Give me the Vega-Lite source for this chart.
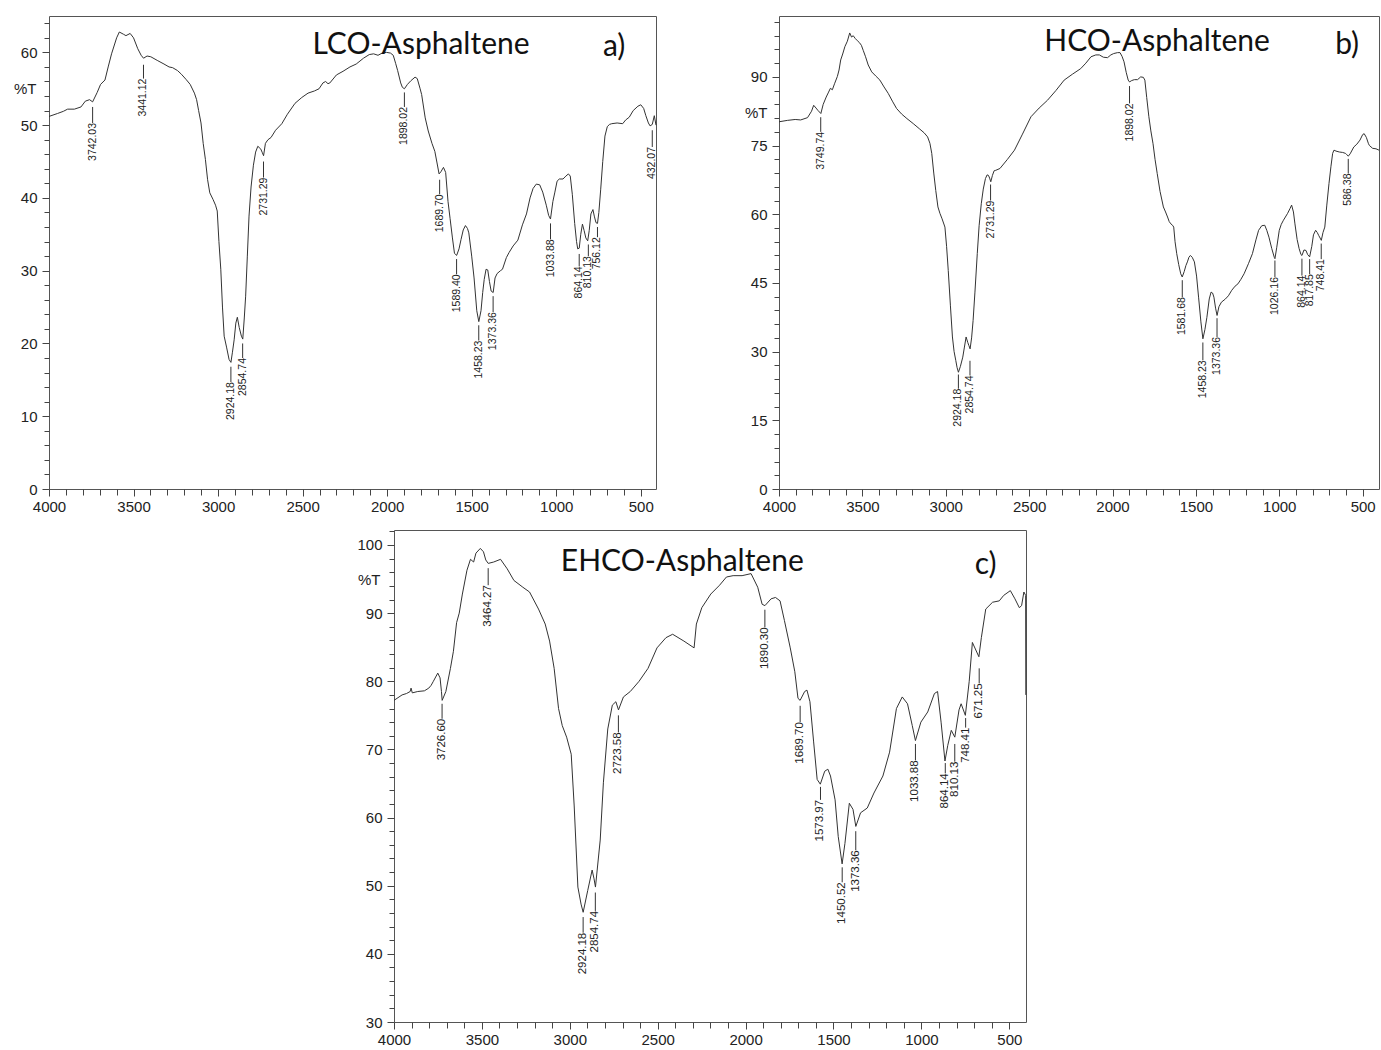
{
"$schema": "https://vega.github.io/schema/vega-lite/v6.json",
"background": "white",
"padding": {"left": 13, "top": 14, "right": 0, "bottom": 0},
"spacing": 8,
"config": {
 "view": {"stroke": "#555", "strokeWidth": 1},
 "axis": {"labelFont": "Liberation Sans", "labelFontSize": 15, "labelColor": "#222", "tickColor": "#444", "tickWidth": 1, "titleFont": "Liberation Sans", "titleFontSize": 15, "titleFontWeight": "normal", "titleColor": "#222", "grid": false, "domain": false, "labelOverlap": false, "labelFlush": false, "labelBound": false}
},
"datasets": {
 "a": [{"wn":4000,"t":51.2},{"wn":3950,"t":51.6},{"wn":3915,"t":51.9},{"wn":3890,"t":52.2},{"wn":3850,"t":52.2},{"wn":3811,"t":52.5},{"wn":3785,"t":53.3},{"wn":3760,"t":53.5},{"wn":3742,"t":53.2},{"wn":3715,"t":54.5},{"wn":3695,"t":55.6},{"wn":3669,"t":56.2},{"wn":3650,"t":58.0},{"wn":3630,"t":59.8},{"wn":3600,"t":62.0},{"wn":3584,"t":62.8},{"wn":3560,"t":62.5},{"wn":3545,"t":62.3},{"wn":3520,"t":62.6},{"wn":3500,"t":62.0},{"wn":3475,"t":60.5},{"wn":3455,"t":59.6},{"wn":3441,"t":59.2},{"wn":3420,"t":59.5},{"wn":3398,"t":59.4},{"wn":3360,"t":58.9},{"wn":3320,"t":58.4},{"wn":3290,"t":58.0},{"wn":3269,"t":57.9},{"wn":3240,"t":57.5},{"wn":3217,"t":57.0},{"wn":3190,"t":56.3},{"wn":3165,"t":55.6},{"wn":3140,"t":54.4},{"wn":3127,"t":53.5},{"wn":3115,"t":52.0},{"wn":3101,"t":50.3},{"wn":3088,"t":47.5},{"wn":3075,"t":45.3},{"wn":3062,"t":42.5},{"wn":3049,"t":40.7},{"wn":3030,"t":39.8},{"wn":3015,"t":39.0},{"wn":3005,"t":38.2},{"wn":2995,"t":34.0},{"wn":2984,"t":30.2},{"wn":2974,"t":25.0},{"wn":2964,"t":21.0},{"wn":2950,"t":19.5},{"wn":2935,"t":17.8},{"wn":2924,"t":17.4},{"wn":2915,"t":18.8},{"wn":2905,"t":20.5},{"wn":2895,"t":22.8},{"wn":2886,"t":23.6},{"wn":2875,"t":22.2},{"wn":2862,"t":21.0},{"wn":2854,"t":20.6},{"wn":2845,"t":23.5},{"wn":2837,"t":26.5},{"wn":2827,"t":32.0},{"wn":2817,"t":37.5},{"wn":2805,"t":41.5},{"wn":2791,"t":44.5},{"wn":2778,"t":46.3},{"wn":2765,"t":47.1},{"wn":2747,"t":46.7},{"wn":2738,"t":46.2},{"wn":2731,"t":45.8},{"wn":2720,"t":47.5},{"wn":2705,"t":48.0},{"wn":2687,"t":48.3},{"wn":2660,"t":49.3},{"wn":2623,"t":50.2},{"wn":2590,"t":51.5},{"wn":2545,"t":53.0},{"wn":2505,"t":53.8},{"wn":2468,"t":54.4},{"wn":2430,"t":54.7},{"wn":2403,"t":55.0},{"wn":2380,"t":55.8},{"wn":2364,"t":56.0},{"wn":2350,"t":55.7},{"wn":2339,"t":55.8},{"wn":2300,"t":56.9},{"wn":2261,"t":57.4},{"wn":2220,"t":58.0},{"wn":2183,"t":58.4},{"wn":2140,"t":59.2},{"wn":2106,"t":59.7},{"wn":2080,"t":59.8},{"wn":2054,"t":59.6},{"wn":2030,"t":59.9},{"wn":2003,"t":60.0},{"wn":1980,"t":59.9},{"wn":1964,"t":59.6},{"wn":1950,"t":58.5},{"wn":1938,"t":57.5},{"wn":1920,"t":55.8},{"wn":1910,"t":55.2},{"wn":1898,"t":55.0},{"wn":1880,"t":55.6},{"wn":1860,"t":56.1},{"wn":1835,"t":56.6},{"wn":1822,"t":56.4},{"wn":1805,"t":55.0},{"wn":1796,"t":54.2},{"wn":1775,"t":51.0},{"wn":1757,"t":49.2},{"wn":1735,"t":47.5},{"wn":1718,"t":46.4},{"wn":1705,"t":44.8},{"wn":1693,"t":43.3},{"wn":1682,"t":43.6},{"wn":1667,"t":44.2},{"wn":1654,"t":43.5},{"wn":1640,"t":39.5},{"wn":1628,"t":37.2},{"wn":1614,"t":34.5},{"wn":1602,"t":32.4},{"wn":1589,"t":32.1},{"wn":1575,"t":33.0},{"wn":1563,"t":34.3},{"wn":1550,"t":35.6},{"wn":1537,"t":36.2},{"wn":1525,"t":35.8},{"wn":1517,"t":35.2},{"wn":1500,"t":32.0},{"wn":1486,"t":29.0},{"wn":1470,"t":24.5},{"wn":1458,"t":23.0},{"wn":1445,"t":24.5},{"wn":1435,"t":27.0},{"wn":1426,"t":28.8},{"wn":1415,"t":30.2},{"wn":1405,"t":30.1},{"wn":1395,"t":28.5},{"wn":1385,"t":27.2},{"wn":1373,"t":27.0},{"wn":1362,"t":29.0},{"wn":1350,"t":29.6},{"wn":1330,"t":30.0},{"wn":1318,"t":30.2},{"wn":1295,"t":31.8},{"wn":1279,"t":32.5},{"wn":1255,"t":33.4},{"wn":1227,"t":34.2},{"wn":1200,"t":36.3},{"wn":1176,"t":37.8},{"wn":1155,"t":40.0},{"wn":1137,"t":41.3},{"wn":1118,"t":41.9},{"wn":1098,"t":41.8},{"wn":1080,"t":40.8},{"wn":1059,"t":39.0},{"wn":1045,"t":37.6},{"wn":1034,"t":37.1},{"wn":1020,"t":39.5},{"wn":1008,"t":40.8},{"wn":995,"t":42.3},{"wn":982,"t":42.6},{"wn":960,"t":42.6},{"wn":943,"t":43.0},{"wn":928,"t":43.3},{"wn":917,"t":43.0},{"wn":905,"t":40.5},{"wn":891,"t":36.5},{"wn":880,"t":34.0},{"wn":873,"t":33.0},{"wn":864,"t":33.1},{"wn":855,"t":35.0},{"wn":845,"t":36.4},{"wn":835,"t":35.5},{"wn":825,"t":34.5},{"wn":814,"t":34.1},{"wn":805,"t":35.5},{"wn":795,"t":37.8},{"wn":783,"t":38.4},{"wn":775,"t":37.5},{"wn":765,"t":36.6},{"wn":756,"t":36.5},{"wn":748,"t":38.0},{"wn":737,"t":41.2},{"wn":725,"t":45.0},{"wn":712,"t":48.5},{"wn":698,"t":49.8},{"wn":685,"t":50.1},{"wn":672,"t":50.2},{"wn":640,"t":50.3},{"wn":607,"t":50.2},{"wn":590,"t":50.7},{"wn":568,"t":51.1},{"wn":545,"t":52.0},{"wn":517,"t":52.6},{"wn":500,"t":52.8},{"wn":483,"t":52.3},{"wn":470,"t":51.3},{"wn":455,"t":50.3},{"wn":445,"t":49.9},{"wn":432,"t":50.1},{"wn":420,"t":51.3},{"wn":410,"t":50.0}],
 "b": [{"wn":4000,"t":80.2},{"wn":3950,"t":80.5},{"wn":3903,"t":80.7},{"wn":3870,"t":80.6},{"wn":3829,"t":81.1},{"wn":3805,"t":82.5},{"wn":3792,"t":83.8},{"wn":3778,"t":83.2},{"wn":3767,"t":82.7},{"wn":3749,"t":82.0},{"wn":3735,"t":84.0},{"wn":3717,"t":85.6},{"wn":3705,"t":86.5},{"wn":3692,"t":87.5},{"wn":3680,"t":87.2},{"wn":3667,"t":88.5},{"wn":3650,"t":90.1},{"wn":3640,"t":91.5},{"wn":3630,"t":93.7},{"wn":3618,"t":95.0},{"wn":3605,"t":96.6},{"wn":3590,"t":97.8},{"wn":3576,"t":99.6},{"wn":3565,"t":98.7},{"wn":3555,"t":99.0},{"wn":3543,"t":98.4},{"wn":3530,"t":97.9},{"wn":3518,"t":97.5},{"wn":3506,"t":96.9},{"wn":3495,"t":95.8},{"wn":3481,"t":94.4},{"wn":3465,"t":92.6},{"wn":3444,"t":91.1},{"wn":3420,"t":90.2},{"wn":3395,"t":89.3},{"wn":3370,"t":87.8},{"wn":3345,"t":86.4},{"wn":3320,"t":84.7},{"wn":3295,"t":83.1},{"wn":3265,"t":81.9},{"wn":3233,"t":80.9},{"wn":3195,"t":79.8},{"wn":3159,"t":78.7},{"wn":3130,"t":77.8},{"wn":3109,"t":76.9},{"wn":3095,"t":75.5},{"wn":3084,"t":73.3},{"wn":3072,"t":69.0},{"wn":3060,"t":65.2},{"wn":3047,"t":61.6},{"wn":3035,"t":60.2},{"wn":3022,"t":59.0},{"wn":3005,"t":57.2},{"wn":2995,"t":53.0},{"wn":2985,"t":47.7},{"wn":2972,"t":40.0},{"wn":2960,"t":33.2},{"wn":2950,"t":30.0},{"wn":2940,"t":28.1},{"wn":2932,"t":26.5},{"wn":2924,"t":25.5},{"wn":2912,"t":26.8},{"wn":2898,"t":28.8},{"wn":2888,"t":31.0},{"wn":2878,"t":33.2},{"wn":2868,"t":32.0},{"wn":2861,"t":31.3},{"wn":2854,"t":30.6},{"wn":2845,"t":33.0},{"wn":2836,"t":36.8},{"wn":2825,"t":43.0},{"wn":2811,"t":51.4},{"wn":2800,"t":57.5},{"wn":2787,"t":62.3},{"wn":2775,"t":65.5},{"wn":2762,"t":67.8},{"wn":2752,"t":68.6},{"wn":2744,"t":68.5},{"wn":2737,"t":67.9},{"wn":2730,"t":67.1},{"wn":2720,"t":68.5},{"wn":2710,"t":69.5},{"wn":2700,"t":69.6},{"wn":2675,"t":70.0},{"wn":2630,"t":72.0},{"wn":2588,"t":74.0},{"wn":2540,"t":77.5},{"wn":2489,"t":81.3},{"wn":2440,"t":83.2},{"wn":2390,"t":84.9},{"wn":2340,"t":87.0},{"wn":2290,"t":89.3},{"wn":2240,"t":90.6},{"wn":2191,"t":91.8},{"wn":2160,"t":93.0},{"wn":2129,"t":94.4},{"wn":2100,"t":94.8},{"wn":2079,"t":94.8},{"wn":2055,"t":94.3},{"wn":2030,"t":94.2},{"wn":2010,"t":94.8},{"wn":1993,"t":95.1},{"wn":1970,"t":95.3},{"wn":1955,"t":95.3},{"wn":1943,"t":94.5},{"wn":1931,"t":93.3},{"wn":1918,"t":91.0},{"wn":1906,"t":89.3},{"wn":1898,"t":88.9},{"wn":1885,"t":89.2},{"wn":1869,"t":89.4},{"wn":1850,"t":89.4},{"wn":1831,"t":90.0},{"wn":1815,"t":89.9},{"wn":1806,"t":89.3},{"wn":1795,"t":85.5},{"wn":1782,"t":81.3},{"wn":1770,"t":78.2},{"wn":1757,"t":75.4},{"wn":1745,"t":72.0},{"wn":1732,"t":68.9},{"wn":1715,"t":65.0},{"wn":1695,"t":61.6},{"wn":1682,"t":60.5},{"wn":1670,"t":59.4},{"wn":1660,"t":58.4},{"wn":1650,"t":57.9},{"wn":1640,"t":57.6},{"wn":1633,"t":57.2},{"wn":1625,"t":54.0},{"wn":1615,"t":51.4},{"wn":1603,"t":49.0},{"wn":1591,"t":47.0},{"wn":1582,"t":46.3},{"wn":1570,"t":47.5},{"wn":1560,"t":48.8},{"wn":1551,"t":49.6},{"wn":1542,"t":50.6},{"wn":1533,"t":51.0},{"wn":1522,"t":50.6},{"wn":1509,"t":49.6},{"wn":1496,"t":46.5},{"wn":1484,"t":41.9},{"wn":1470,"t":36.5},{"wn":1458,"t":32.8},{"wn":1446,"t":34.8},{"wn":1434,"t":37.5},{"wn":1420,"t":41.5},{"wn":1409,"t":43.0},{"wn":1400,"t":42.8},{"wn":1392,"t":41.9},{"wn":1382,"t":39.5},{"wn":1373,"t":37.9},{"wn":1362,"t":39.8},{"wn":1347,"t":40.8},{"wn":1323,"t":41.5},{"wn":1305,"t":42.2},{"wn":1285,"t":43.4},{"wn":1265,"t":44.3},{"wn":1248,"t":44.8},{"wn":1230,"t":45.8},{"wn":1211,"t":47.0},{"wn":1185,"t":49.2},{"wn":1161,"t":51.4},{"wn":1140,"t":54.4},{"wn":1124,"t":56.5},{"wn":1105,"t":57.5},{"wn":1087,"t":57.6},{"wn":1075,"t":56.5},{"wn":1062,"t":55.0},{"wn":1045,"t":52.5},{"wn":1030,"t":50.6},{"wn":1026,"t":50.3},{"wn":1015,"t":52.8},{"wn":1000,"t":56.5},{"wn":988,"t":57.8},{"wn":975,"t":58.7},{"wn":950,"t":60.2},{"wn":935,"t":61.3},{"wn":926,"t":62.0},{"wn":915,"t":60.5},{"wn":906,"t":57.9},{"wn":893,"t":54.5},{"wn":881,"t":52.5},{"wn":870,"t":51.2},{"wn":864,"t":51.0},{"wn":852,"t":52.2},{"wn":840,"t":52.1},{"wn":830,"t":51.2},{"wn":818,"t":50.7},{"wn":805,"t":53.0},{"wn":795,"t":55.5},{"wn":782,"t":56.5},{"wn":772,"t":56.0},{"wn":764,"t":55.4},{"wn":755,"t":54.8},{"wn":748,"t":54.3},{"wn":738,"t":56.0},{"wn":727,"t":57.2},{"wn":715,"t":62.0},{"wn":702,"t":66.7},{"wn":690,"t":70.5},{"wn":680,"t":73.3},{"wn":672,"t":74.0},{"wn":660,"t":73.8},{"wn":640,"t":73.6},{"wn":620,"t":73.5},{"wn":603,"t":73.3},{"wn":595,"t":73.0},{"wn":586,"t":72.7},{"wn":575,"t":73.2},{"wn":553,"t":74.7},{"wn":535,"t":75.3},{"wn":516,"t":76.2},{"wn":500,"t":77.4},{"wn":491,"t":77.6},{"wn":478,"t":76.8},{"wn":465,"t":75.4},{"wn":459,"t":75.0},{"wn":440,"t":74.4},{"wn":420,"t":74.3},{"wn":402,"t":74.0}],
 "c": [{"wn":4000,"t":77.2},{"wn":3954,"t":78.0},{"wn":3929,"t":78.2},{"wn":3908,"t":78.5},{"wn":3903,"t":79.0},{"wn":3896,"t":78.3},{"wn":3865,"t":78.5},{"wn":3827,"t":78.6},{"wn":3802,"t":79.0},{"wn":3789,"t":79.4},{"wn":3776,"t":80.0},{"wn":3751,"t":81.2},{"wn":3738,"t":80.5},{"wn":3730,"t":78.5},{"wn":3726,"t":77.2},{"wn":3705,"t":78.5},{"wn":3679,"t":81.9},{"wn":3662,"t":84.4},{"wn":3644,"t":88.6},{"wn":3629,"t":90.0},{"wn":3611,"t":92.8},{"wn":3585,"t":96.3},{"wn":3565,"t":97.9},{"wn":3547,"t":97.5},{"wn":3534,"t":98.8},{"wn":3509,"t":99.5},{"wn":3491,"t":99.0},{"wn":3478,"t":97.8},{"wn":3464,"t":97.3},{"wn":3433,"t":97.5},{"wn":3394,"t":97.9},{"wn":3356,"t":96.5},{"wn":3318,"t":94.8},{"wn":3267,"t":93.8},{"wn":3229,"t":93.1},{"wn":3178,"t":90.6},{"wn":3140,"t":88.4},{"wn":3115,"t":85.9},{"wn":3089,"t":81.9},{"wn":3064,"t":76.0},{"wn":3043,"t":73.5},{"wn":3018,"t":71.8},{"wn":2992,"t":69.3},{"wn":2975,"t":61.7},{"wn":2954,"t":49.8},{"wn":2936,"t":47.3},{"wn":2924,"t":46.1},{"wn":2898,"t":49.3},{"wn":2873,"t":52.3},{"wn":2862,"t":51.0},{"wn":2854,"t":49.8},{"wn":2827,"t":56.7},{"wn":2809,"t":65.1},{"wn":2784,"t":73.0},{"wn":2758,"t":76.5},{"wn":2738,"t":77.0},{"wn":2723,"t":75.8},{"wn":2695,"t":77.7},{"wn":2656,"t":78.5},{"wn":2606,"t":80.0},{"wn":2555,"t":81.9},{"wn":2504,"t":84.9},{"wn":2453,"t":86.4},{"wn":2415,"t":86.9},{"wn":2351,"t":85.9},{"wn":2293,"t":84.9},{"wn":2280,"t":88.4},{"wn":2249,"t":90.8},{"wn":2198,"t":92.8},{"wn":2148,"t":94.1},{"wn":2109,"t":95.3},{"wn":2071,"t":95.5},{"wn":2020,"t":95.5},{"wn":1969,"t":95.8},{"wn":1931,"t":93.8},{"wn":1906,"t":91.3},{"wn":1890,"t":91.1},{"wn":1855,"t":92.1},{"wn":1830,"t":92.3},{"wn":1804,"t":91.8},{"wn":1779,"t":88.9},{"wn":1746,"t":84.9},{"wn":1720,"t":81.4},{"wn":1702,"t":77.5},{"wn":1690,"t":77.2},{"wn":1664,"t":78.5},{"wn":1651,"t":78.7},{"wn":1634,"t":77.0},{"wn":1613,"t":71.1},{"wn":1593,"t":65.6},{"wn":1575,"t":64.9},{"wn":1550,"t":66.8},{"wn":1532,"t":67.1},{"wn":1517,"t":66.1},{"wn":1491,"t":62.6},{"wn":1473,"t":57.2},{"wn":1451,"t":53.2},{"wn":1435,"t":56.2},{"wn":1410,"t":62.1},{"wn":1389,"t":61.2},{"wn":1373,"t":58.7},{"wn":1346,"t":60.7},{"wn":1308,"t":61.4},{"wn":1270,"t":63.6},{"wn":1219,"t":66.1},{"wn":1181,"t":69.6},{"wn":1142,"t":76.0},{"wn":1109,"t":77.7},{"wn":1079,"t":76.7},{"wn":1052,"t":73.5},{"wn":1034,"t":71.3},{"wn":1003,"t":74.0},{"wn":964,"t":75.5},{"wn":926,"t":78.2},{"wn":908,"t":78.5},{"wn":888,"t":74.0},{"wn":866,"t":68.3},{"wn":850,"t":70.6},{"wn":830,"t":72.8},{"wn":810,"t":71.8},{"wn":786,"t":75.8},{"wn":774,"t":76.7},{"wn":750,"t":75.0},{"wn":728,"t":80.0},{"wn":710,"t":85.7},{"wn":673,"t":83.6},{"wn":659,"t":86.4},{"wn":634,"t":90.6},{"wn":595,"t":91.6},{"wn":557,"t":91.8},{"wn":532,"t":92.6},{"wn":494,"t":93.3},{"wn":468,"t":92.1},{"wn":443,"t":90.8},{"wn":430,"t":91.1},{"wn":417,"t":93.1},{"wn":407,"t":92.6},{"wn":406,"t":78.0}],
 "pa": [{"label":"3742.03","wn":3742.03,"y1":52.5,"y2":50.3},{"label":"3441.12","wn":3441.12,"y1":58.3,"y2":56.4},{"label":"2924.18","wn":2924.18,"y1":16.8,"y2":14.7},{"label":"2854.74","wn":2854.74,"y1":20.0,"y2":18.0},{"label":"2731.29","wn":2731.29,"y1":45.0,"y2":42.8},{"label":"1898.02","wn":1898.02,"y1":54.5,"y2":52.5},{"label":"1689.70","wn":1689.70,"y1":42.5,"y2":40.5},{"label":"1589.40","wn":1589.40,"y1":31.6,"y2":29.5},{"label":"1458.23","wn":1458.23,"y1":22.5,"y2":20.4},{"label":"1373.36","wn":1373.36,"y1":26.5,"y2":24.3},{"label":"1033.88","wn":1033.88,"y1":36.5,"y2":34.3},{"label":"864.14","wn":864.14,"y1":32.3,"y2":30.6},{"label":"810.13","wn":810.13,"y1":33.6,"y2":32.0},{"label":"756.12","wn":756.12,"y1":36.0,"y2":34.6},{"label":"432.07","wn":432.07,"y1":49.3,"y2":47.0}],
 "pb": [{"label":"3749.74","wn":3749.74,"y1":81.2,"y2":78.0},{"label":"2924.18","wn":2924.18,"y1":25.0,"y2":21.9},{"label":"2854.74","wn":2854.74,"y1":28.0,"y2":24.8},{"label":"2731.29","wn":2731.29,"y1":66.5,"y2":63.0},{"label":"1898.02","wn":1898.02,"y1":88.0,"y2":84.2},{"label":"1581.68","wn":1581.68,"y1":45.6,"y2":41.9},{"label":"1458.23","wn":1458.23,"y1":32.0,"y2":28.1},{"label":"1373.36","wn":1373.36,"y1":37.3,"y2":33.2},{"label":"1026.16","wn":1026.16,"y1":49.9,"y2":46.3},{"label":"864.14","wn":864.14,"y1":50.3,"y2":46.6},{"label":"817.85","wn":817.85,"y1":50.2,"y2":46.9},{"label":"748.41","wn":748.41,"y1":53.6,"y2":50.2},{"label":"586.38","wn":586.38,"y1":72.1,"y2":68.9}],
 "pc": [{"label":"3726.60","wn":3726.60,"y1":76.7,"y2":74.5},{"label":"3464.27","wn":3464.27,"y1":96.6,"y2":94.1},{"label":"2924.18","wn":2924.18,"y1":45.4,"y2":43.1},{"label":"2854.74","wn":2854.74,"y1":49.0,"y2":46.3},{"label":"2723.58","wn":2723.58,"y1":75.0,"y2":72.5},{"label":"1890.30","wn":1890.30,"y1":90.5,"y2":87.9},{"label":"1689.70","wn":1689.70,"y1":76.4,"y2":74.0},{"label":"1573.97","wn":1573.97,"y1":64.5,"y2":62.6},{"label":"1450.52","wn":1450.52,"y1":52.7,"y2":50.5},{"label":"1373.36","wn":1373.36,"y1":58.0,"y2":55.2},{"label":"1033.88","wn":1033.88,"y1":70.8,"y2":68.4},{"label":"864.14","wn":864.14,"y1":68.0,"y2":66.5},{"label":"810.13","wn":810.13,"y1":70.8,"y2":68.2},{"label":"748.41","wn":748.41,"y1":74.6,"y2":73.2},{"label":"671.25","wn":671.25,"y1":81.9,"y2":79.7}],
 "ta": [{"label":"LCO-Asphaltene","wn":2442,"t":61.0},{"label":"a)","wn":724,"t":60.8}],
 "tb": [{"label":"HCO-Asphaltene","wn":2409,"t":97.7},{"label":"b)","wn":665,"t":97.0}],
 "tc": [{"label":"EHCO-Asphaltene","wn":3051,"t":97.5},{"label":"c)","wn":697,"t":97.0}]
},
"vconcat": [
 {"hconcat": [
  {"width": 607, "height": 473,
   "layer": [
    {"data": {"name": "a"}, "mark": {"type": "line", "color": "#333", "strokeWidth": 1},
     "encoding": {
      "x": {"field": "wn", "type": "quantitative", "title": null, "scale": {"domain": [410, 4000], "reverse": true, "nice": false, "zero": false},
            "axis": {"values": [4000,3900,3800,3700,3600,3500,3400,3300,3200,3100,3000,2900,2800,2700,2600,2500,2400,2300,2200,2100,2000,1900,1800,1700,1600,1500,1400,1300,1200,1100,1000,900,800,700,600,500], "tickCount": 500, "format": "d", "labelExpr": "datum.value % 500 === 0 ? datum.label : ''", "tickSize": {"condition": {"test": "datum.value % 500 === 0", "value": 7}, "value": 6}, "labelPadding": 3}},
      "y": {"field": "t", "type": "quantitative", "title": "%T", "scale": {"domain": [0, 65], "nice": false, "zero": false},
            "axis": {"values": [0,2,4,6,8,10,12,14,16,18,20,22,24,26,28,30,32,34,36,38,40,42,44,46,48,50,52,54,56,58,60,62,64], "tickCount": 500, "format": "d", "labelExpr": "datum.value % 10 === 0 ? datum.label : ''", "tickSize": {"condition": {"test": "datum.value % 10 === 0", "value": 7}, "value": 5}, "labelPadding": 5, "titleAngle": 0, "titleX": -13, "titleY": 72, "titleAlign": "right", "titleBaseline": "middle"}}
     }},
    {"data": {"name": "pa"}, "mark": {"type": "rule", "color": "#333", "strokeWidth": 1},
     "encoding": {"x": {"field": "wn", "type": "quantitative", "title": null}, "y": {"field": "y1", "type": "quantitative", "title": "%T"}, "y2": {"field": "y2"}}},
    {"data": {"name": "pa"}, "mark": {"type": "text", "angle": 270, "align": "right", "baseline": "middle", "font": "Liberation Sans", "fontSize": 10.5, "color": "#222"},
     "encoding": {"x": {"field": "wn", "type": "quantitative", "title": null}, "y": {"field": "y2", "type": "quantitative", "title": "%T"}, "text": {"field": "label"}}},
    {"data": {"name": "ta"}, "mark": {"type": "text", "align": "left", "baseline": "middle", "font": "Lato", "fontSize": 30, "color": "#111"},
     "encoding": {"x": {"field": "wn", "type": "quantitative", "title": null}, "y": {"field": "t", "type": "quantitative", "title": "%T"}, "text": {"field": "label"}}}
   ]},
  {"width": 600, "height": 473,
   "layer": [
    {"data": {"name": "b"}, "mark": {"type": "line", "color": "#333", "strokeWidth": 1},
     "encoding": {
      "x": {"field": "wn", "type": "quantitative", "title": null, "scale": {"domain": [402, 4000], "reverse": true, "nice": false, "zero": false},
            "axis": {"values": [4000,3900,3800,3700,3600,3500,3400,3300,3200,3100,3000,2900,2800,2700,2600,2500,2400,2300,2200,2100,2000,1900,1800,1700,1600,1500,1400,1300,1200,1100,1000,900,800,700,600,500], "tickCount": 500, "format": "d", "labelExpr": "datum.value % 500 === 0 ? datum.label : ''", "tickSize": {"condition": {"test": "datum.value % 500 === 0", "value": 7}, "value": 6}, "labelPadding": 3}},
      "y": {"field": "t", "type": "quantitative", "title": "%T", "scale": {"domain": [0, 103.3], "nice": false, "zero": false},
            "axis": {"values": [0,3,6,9,12,15,18,21,24,27,30,33,36,39,42,45,48,51,54,57,60,63,66,69,72,75,78,81,84,87,90,93,96,99,102], "tickCount": 500, "format": "d", "labelExpr": "datum.value % 15 === 0 ? datum.label : ''", "tickSize": {"condition": {"test": "datum.value % 15 === 0", "value": 7}, "value": 5}, "labelPadding": 5, "titleAngle": 0, "titleX": -12, "titleY": 96, "titleAlign": "right", "titleBaseline": "middle"}}
     }},
    {"data": {"name": "pb"}, "mark": {"type": "rule", "color": "#333", "strokeWidth": 1},
     "encoding": {"x": {"field": "wn", "type": "quantitative", "title": null}, "y": {"field": "y1", "type": "quantitative", "title": "%T"}, "y2": {"field": "y2"}}},
    {"data": {"name": "pb"}, "mark": {"type": "text", "angle": 270, "align": "right", "baseline": "middle", "font": "Liberation Sans", "fontSize": 10.5, "color": "#222"},
     "encoding": {"x": {"field": "wn", "type": "quantitative", "title": null}, "y": {"field": "y2", "type": "quantitative", "title": "%T"}, "text": {"field": "label"}}},
    {"data": {"name": "tb"}, "mark": {"type": "text", "align": "left", "baseline": "middle", "font": "Lato", "fontSize": 30, "color": "#111"},
     "encoding": {"x": {"field": "wn", "type": "quantitative", "title": null}, "y": {"field": "t", "type": "quantitative", "title": "%T"}, "text": {"field": "label"}}}
   ]}
 ], "spacing": 123, "bounds": "flush"},
 {"hconcat": [
  {"width": 335, "height": 1, "data": {"values": [{"k": 1}]}, "mark": {"type": "text", "text": ""}, "encoding": {}, "view": {"stroke": null}},
  {"width": 632, "height": 492,
   "layer": [
    {"data": {"name": "c"}, "mark": {"type": "line", "color": "#333", "strokeWidth": 1},
     "encoding": {
      "x": {"field": "wn", "type": "quantitative", "title": null, "scale": {"domain": [405, 4000], "reverse": true, "nice": false, "zero": false},
            "axis": {"values": [4000,3900,3800,3700,3600,3500,3400,3300,3200,3100,3000,2900,2800,2700,2600,2500,2400,2300,2200,2100,2000,1900,1800,1700,1600,1500,1400,1300,1200,1100,1000,900,800,700,600,500], "tickCount": 500, "format": "d", "labelExpr": "datum.value % 500 === 0 ? datum.label : ''", "tickSize": {"condition": {"test": "datum.value % 500 === 0", "value": 7}, "value": 6}, "labelPadding": 3}},
      "y": {"field": "t", "type": "quantitative", "title": "%T", "scale": {"domain": [30, 102.2], "nice": false, "zero": false},
            "axis": {"values": [30,32,34,36,38,40,42,44,46,48,50,52,54,56,58,60,62,64,66,68,70,72,74,76,78,80,82,84,86,88,90,92,94,96,98,100,102], "tickCount": 500, "format": "d", "labelExpr": "datum.value % 10 === 0 ? datum.label : ''", "tickSize": {"condition": {"test": "datum.value % 10 === 0", "value": 7}, "value": 5}, "labelPadding": 5, "titleAngle": 0, "titleX": -14, "titleY": 49, "titleAlign": "right", "titleBaseline": "middle"}}
     }},
    {"data": {"name": "pc"}, "mark": {"type": "rule", "color": "#333", "strokeWidth": 1},
     "encoding": {"x": {"field": "wn", "type": "quantitative", "title": null}, "y": {"field": "y1", "type": "quantitative", "title": "%T"}, "y2": {"field": "y2"}}},
    {"data": {"name": "pc"}, "mark": {"type": "text", "angle": 270, "align": "right", "baseline": "middle", "font": "Liberation Sans", "fontSize": 11.5, "color": "#222"},
     "encoding": {"x": {"field": "wn", "type": "quantitative", "title": null}, "y": {"field": "y2", "type": "quantitative", "title": "%T"}, "text": {"field": "label"}}},
    {"data": {"name": "tc"}, "mark": {"type": "text", "align": "left", "baseline": "middle", "font": "Lato", "fontSize": 30, "color": "#111"},
     "encoding": {"x": {"field": "wn", "type": "quantitative", "title": null}, "y": {"field": "t", "type": "quantitative", "title": "%T"}, "text": {"field": "label"}}}
   ]}
 ], "spacing": 10, "bounds": "flush"}
]
}
